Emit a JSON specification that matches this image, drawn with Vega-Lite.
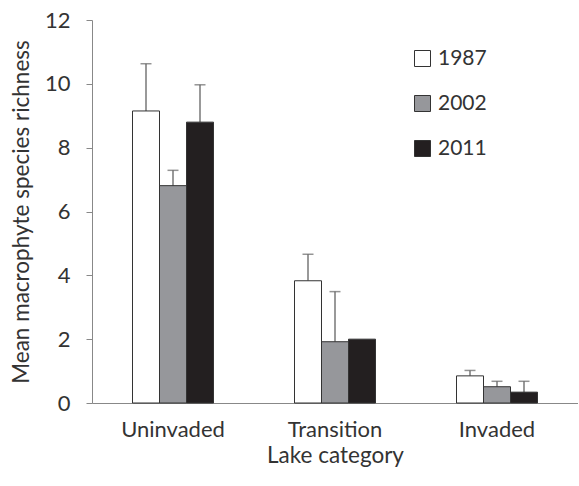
{
  "$schema": "https://vega.github.io/schema/vega-lite/v6.json",
  "width": 486,
  "height": 383,
  "padding": {"left": 10, "top": 9, "right": 0, "bottom": 5},
  "background": "white",
  "config": {
    "view": {"stroke": null},
    "font": "Lato",
    "axis": {"labelFont": "Lato", "titleFont": "Lato", "labelColor": "#333", "titleColor": "#333", "domainColor": "#888", "tickColor": "#888", "grid": false, "labelFontSize": 22, "titleFontSize": 22.5, "titleFontWeight": "normal"}
  },
  "data": {
    "values": [
      {"category": "Uninvaded", "year": "1987", "mean": 9.15, "upper": 10.63},
      {"category": "Uninvaded", "year": "2002", "mean": 6.81, "upper": 7.29},
      {"category": "Uninvaded", "year": "2011", "mean": 8.8, "upper": 9.97},
      {"category": "Transition", "year": "1987", "mean": 3.83, "upper": 4.66},
      {"category": "Transition", "year": "2002", "mean": 1.92, "upper": 3.49},
      {"category": "Transition", "year": "2011", "mean": 2.0, "upper": null},
      {"category": "Invaded", "year": "1987", "mean": 0.85, "upper": 1.02},
      {"category": "Invaded", "year": "2002", "mean": 0.51, "upper": 0.68},
      {"category": "Invaded", "year": "2011", "mean": 0.34, "upper": 0.68}
    ]
  },
  "encoding": {
    "x": {
      "field": "category", "type": "nominal", "sort": ["Uninvaded", "Transition", "Invaded"],
      "scale": {"paddingInner": 0.5, "paddingOuter": 0.25},
      "axis": {"title": "Lake category", "labelAngle": 0, "ticks": false, "labelPadding": 16, "titlePadding": 4}
    },
    "xOffset": {"field": "year", "type": "nominal", "scale": {"paddingInner": 0, "paddingOuter": 0}}
  },
  "layer": [
    {
      "mark": {"type": "rule", "color": "#777", "strokeWidth": 1.5},
      "transform": [{"filter": "datum.upper != null"}],
      "encoding": {
        "y": {"field": "mean", "type": "quantitative"},
        "y2": {"field": "upper"}
      }
    },
    {
      "mark": {"type": "tick", "color": "#666", "thickness": 1.5, "size": 11, "orient": "horizontal"},
      "transform": [{"filter": "datum.upper != null"}],
      "encoding": {
        "y": {"field": "upper", "type": "quantitative"}
      }
    },
    {
      "mark": {"type": "bar", "stroke": "#333", "strokeWidth": 1},
      "encoding": {
        "y": {
          "field": "mean", "type": "quantitative",
          "scale": {"domain": [0, 12], "nice": false},
          "axis": {"title": "Mean macrophyte species richness", "values": [0, 2, 4, 6, 8, 10, 12], "tickSize": 6, "labelPadding": 16, "titlePadding": 11}
        },
        "fill": {
          "field": "year", "type": "nominal",
          "scale": {"domain": ["1987", "2002", "2011"], "range": ["#ffffff", "#96979b", "#231f20"]},
          "legend": {
            "title": null, "orient": "none", "legendX": 320, "legendY": 28,
            "symbolType": "square", "symbolSize": 256, "symbolStrokeColor": "#333", "symbolStrokeWidth": 1,
            "labelFontSize": 21, "labelColor": "#333", "labelFont": "Lato", "rowPadding": 23, "labelOffset": 5
          }
        }
      }
    }
  ]
}
